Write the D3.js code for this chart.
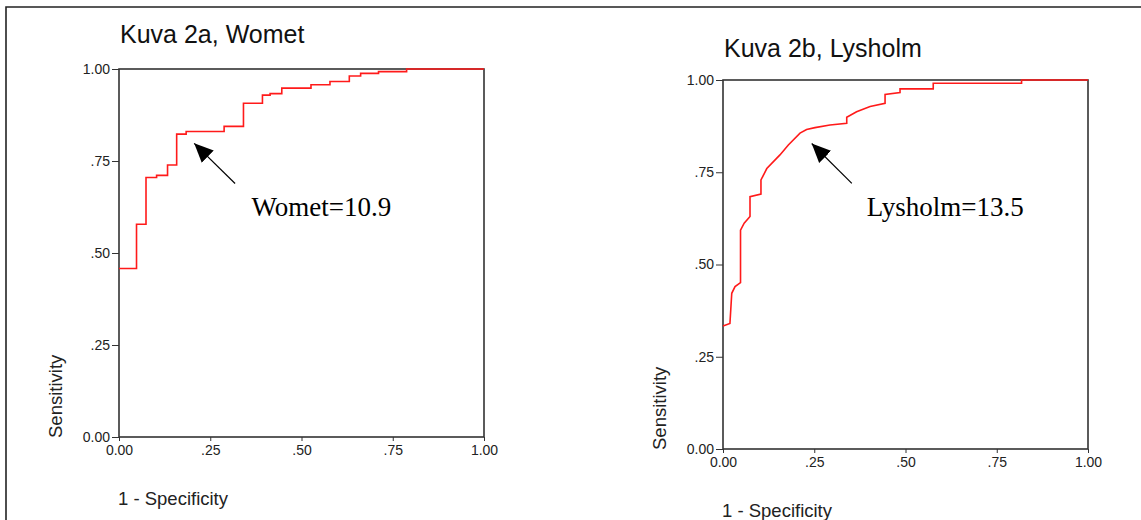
<!DOCTYPE html>
<html>
<head>
<meta charset="utf-8">
<script src="https://cdn.jsdelivr.net/npm/d3@7"></script>
<style>
  body { margin: 0; background: #fff; }
  .tick-label { font-family: "Liberation Sans", Arial, sans-serif; font-size: 14px; fill: #222; }
  .axis-title { font-family: "Liberation Sans", Arial, sans-serif; font-size: 18.5px; fill: #222; }
  .chart-title { font-family: "Liberation Sans", Arial, sans-serif; font-size: 25px; fill: #111; }
  .note { font-family: "Liberation Serif", "Times New Roman", serif; font-size: 27px; fill: #000; }
</style>
</head>
<body>
<svg id="chart"></svg>
<script>
// ROC data (1 - specificity, sensitivity)
const wometFpr = [0, 0.048, 0.074, 0.103, 0.133, 0.158, 0.184, 0.288, 0.341, 0.393, 0.414, 0.446, 0.526, 0.578, 0.631, 0.662, 0.711, 0.788, 1.0];
const wometSens = [0.458, 0.578, 0.705, 0.711, 0.739, 0.823, 0.830, 0.844, 0.907, 0.929, 0.933, 0.948, 0.957, 0.966, 0.981, 0.988, 0.993, 1.0, 1.0];

const lysholmFpr = [0, 0.019, 0.024, 0.033, 0.048, 0.048, 0.058, 0.074, 0.074, 0.104, 0.104, 0.12, 0.156, 0.179, 0.211, 0.229, 0.252, 0.293, 0.339, 0.339, 0.366, 0.403, 0.444, 0.444, 0.485, 0.485, 0.576, 0.576, 0.818, 0.818, 1.0];
const lysholmSens = [0.333, 0.34, 0.422, 0.44, 0.451, 0.593, 0.612, 0.63, 0.684, 0.691, 0.729, 0.76, 0.797, 0.824, 0.856, 0.866, 0.871, 0.878, 0.883, 0.899, 0.914, 0.928, 0.937, 0.961, 0.966, 0.976, 0.976, 0.991, 0.991, 1.0, 1.0];

const tickValues = [0, 0.25, 0.5, 0.75, 1];
const tickLabels = ["0.00", ".25", ".50", ".75", "1.00"];

const titles = ["Kuva 2a, Womet", "Kuva 2b, Lysholm"];
const notes = ["Womet=10.9", "Lysholm=13.5"];
// arrow tail/tip and note position, in data units
const arrowTail = [[0.318, 0.689], [0.353, 0.72]];
const arrowTip = [[0.206, 0.798], [0.243, 0.828]];
const notePos = [[0.363, 0.60], [0.394, 0.631]];

const width = 1141;
const height = 520;
const svg = d3.select("#chart").attr("width", width).attr("height", height);

svg.append("defs").append("marker")
  .attr("id", "head")
  .attr("viewBox", "0 0 10 10")
  .attr("refX", 10).attr("refY", 5)
  .attr("markerWidth", 19).attr("markerHeight", 19)
  .attr("markerUnits", "userSpaceOnUse")
  .attr("orient", "auto")
  .append("path")
  .attr("d", "M0,0.5 L10,5 L0,9.5 z")
  .attr("fill", "#000");

// outer frame (top and left edges only)
svg.append("path")
  .attr("d", `M6,${height} L6,7 L${width},7`)
  .attr("fill", "none")
  .attr("stroke", "#222")
  .attr("stroke-width", 1.6);

function drawRoc(i, fpr, sens, box, curve) {
  const x = d3.scaleLinear().domain([0, 1]).range([box.left, box.right]);
  const y = d3.scaleLinear().domain([0, 1]).range([box.bottom, box.top]);
  const g = svg.append("g");

  // title
  g.append("text")
    .attr("class", "chart-title")
    .attr("x", box.left + 1)
    .attr("y", box.titleY)
    .text(titles[i]);

  // axes
  const yAxis = d3.axisLeft(y).tickValues(tickValues).tickSize(7).tickPadding(2)
    .tickFormat((d, k) => tickLabels[k]);
  const xAxis = d3.axisBottom(x).tickValues(tickValues).tickSize(4).tickPadding(4)
    .tickFormat((d, k) => tickLabels[k]);

  const ya = g.append("g").attr("transform", `translate(${box.left},0)`).call(yAxis);
  const xa = g.append("g").attr("transform", `translate(0,${box.bottom})`).call(xAxis);
  [ya, xa].forEach((a) => {
    a.select(".domain").remove();
    a.selectAll("line").attr("stroke", "#333");
    a.selectAll("text").attr("class", "tick-label").attr("fill", null);
  });

  // frame around plot
  g.append("rect")
    .attr("x", box.left).attr("y", box.top)
    .attr("width", box.right - box.left).attr("height", box.bottom - box.top)
    .attr("fill", "none")
    .attr("stroke", "#333")
    .attr("stroke-width", 1.6);

  // ROC curve
  const pts = fpr.map((f, k) => [f, sens[k]]);
  const line = d3.line().x((d) => x(d[0])).y((d) => y(d[1])).curve(curve);
  g.append("path")
    .attr("d", line(pts))
    .attr("fill", "none")
    .attr("stroke", "#ff1a1a")
    .attr("stroke-width", 1.6);

  // axis titles
  g.append("text")
    .attr("class", "axis-title")
    .attr("transform", `translate(${box.left - 57},${box.bottom + 1}) rotate(-90)`)
    .text("Sensitivity");
  g.append("text")
    .attr("class", "axis-title")
    .attr("x", box.left - 1)
    .attr("y", box.xTitleY)
    .text("1 - Specificity");

  // cut-off annotation
  g.append("line")
    .attr("x1", x(arrowTail[i][0])).attr("y1", y(arrowTail[i][1]))
    .attr("x2", x(arrowTip[i][0])).attr("y2", y(arrowTip[i][1]))
    .attr("stroke", "#000")
    .attr("stroke-width", 1.2)
    .attr("marker-end", "url(#head)");
  g.append("text")
    .attr("class", "note")
    .attr("x", x(notePos[i][0]))
    .attr("y", y(notePos[i][1]))
    .text(notes[i]);
}

drawRoc(0, wometFpr, wometSens,
  { left: 119, right: 484, top: 69, bottom: 437, titleY: 43, xTitleY: 505 },
  d3.curveStepAfter);
drawRoc(1, lysholmFpr, lysholmSens,
  { left: 723, right: 1088, top: 80, bottom: 449, titleY: 57, xTitleY: 517 },
  d3.curveLinear);
</script>
</body>
</html>
